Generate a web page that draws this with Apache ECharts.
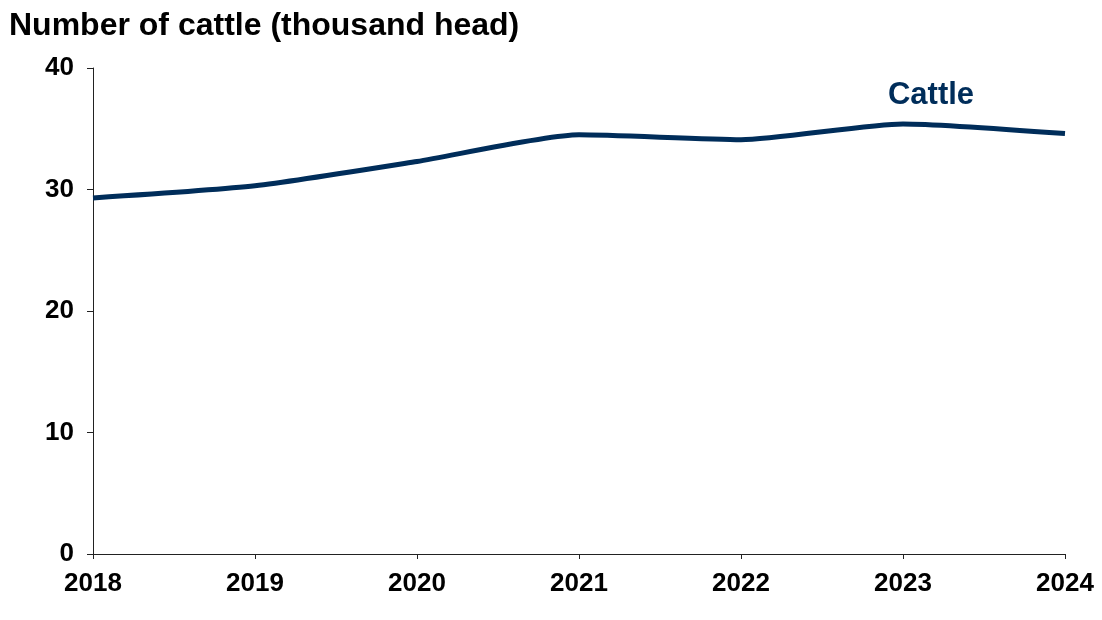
<!DOCTYPE html>
<html>
<head>
<meta charset="utf-8">
<script src="https://cdn.jsdelivr.net/npm/echarts@6/dist/echarts.min.js"></script>
<style>html,body{margin:0;padding:0;background:#fff;}#c{width:1102px;height:620px;}</style>
</head>
<body>
<div id="c"></div>
<script>
const years = ['2018', '2019', '2020', '2021', '2022', '2023', '2024'];
const cattle = [29.3, 30.3, 32.3, 34.5, 34.1, 35.4, 34.6];
const yTicks = [0, 10, 20, 30, 40];
const titleText = 'Number of cattle (thousand head)';
const seriesName = 'Cattle';
const labelIndex = 5;

const navy = '#002d5a';
const font = '"Liberation Sans", Arial, sans-serif';

const chart = echarts.init(document.getElementById('c'));
chart.setOption({
  animation: false,
  backgroundColor: '#fff',
  title: {
    text: titleText,
    left: 4, top: 5,
    textStyle: { fontFamily: font, fontWeight: 'bold', fontSize: 32, color: '#000' }
  },
  grid: { left: 93, right: 37, top: 68, bottom: 66, containLabel: false },
  xAxis: {
    type: 'category',
    data: years,
    boundaryGap: false,
    axisLine: { lineStyle: { color: '#222', width: 1 } },
    axisTick: { show: true, length: 5, alignWithLabel: true, lineStyle: { color: '#222' } },
    axisLabel: { fontFamily: font, fontWeight: 'bold', fontSize: 26, color: '#000', margin: 17 },
    splitLine: { show: false }
  },
  yAxis: {
    type: 'value',
    min: yTicks[0], max: yTicks[yTicks.length - 1], interval: 10,
    axisLine: { show: true, lineStyle: { color: '#222', width: 1 } },
    axisTick: { show: true, length: 6, lineStyle: { color: '#222' } },
    axisLabel: { fontFamily: font, fontWeight: 'bold', fontSize: 26, color: '#000', margin: 19 },
    splitLine: { show: false }
  },
  series: [{
    name: seriesName,
    type: 'line',
    data: cattle,
    smooth: 0.2,
    symbol: 'none',
    lineStyle: { color: navy, width: 5 },
    markPoint: {
      symbol: 'circle',
      symbolSize: 1,
      itemStyle: { color: 'rgba(0,0,0,0)' },
      data: [{ coord: [years[labelIndex], cattle[labelIndex]] }],
      label: {
        show: true, position: 'inside', formatter: seriesName, offset: [28, -28],
        fontFamily: font, fontWeight: 'bold', fontSize: 31, color: navy
      }
    }
  }]
});
</script>
</body>
</html>
